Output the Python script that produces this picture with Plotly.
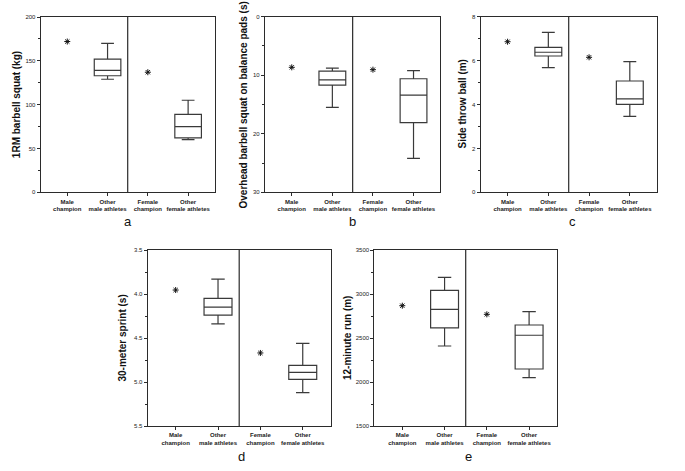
import plotly.graph_objects as go

# ---------------- data ----------------
categories = ["Male<br>champion", "Other<br>male athletes", "Female<br>champion", "Other<br>female athletes"]
cat_pos = [0, 1, 2, 3]

# box stats order: lower whisker, q1, median, q3, upper whisker
squat_champions = [172, 137]
squat_male_box = [129, 133, 139, 152, 170]
squat_female_box = [60, 62, 75, 89, 105]

ohs_champions = [8.65, 9.05]
ohs_male_box = [8.8, 9.3, 10.8, 11.7, 15.5]
ohs_female_box = [9.2, 10.6, 13.4, 18.1, 24.2]

stb_champions = [6.86, 6.15]
stb_male_box = [5.68, 6.21, 6.38, 6.6, 7.29]
stb_female_box = [3.46, 4.01, 4.26, 5.07, 5.95]

sprint_champions = [3.955, 4.67]
sprint_male_box = [3.83, 4.05, 4.15, 4.24, 4.34]
sprint_female_box = [4.56, 4.81, 4.89, 4.97, 5.12]

run_champions = [2867, 2769]
run_male_box = [2409, 2614, 2826, 3042, 3190]
run_female_box = [2049, 2148, 2531, 2648, 2799]

panels = [
    dict(letter="a", title="1RM barbell squat (kg)", champs=squat_champions,
         male=squat_male_box, female=squat_female_box,
         yrange=[0, 200], dtick=50, minor=25, tick0=0, fmt=None),
    dict(letter="b", title="Overhead barbell squat on balance pads (s)", champs=ohs_champions,
         male=ohs_male_box, female=ohs_female_box,
         yrange=[30, 0], dtick=10, minor=5, tick0=0, fmt=None),
    dict(letter="c", title="Side throw ball (m)", champs=stb_champions,
         male=stb_male_box, female=stb_female_box,
         yrange=[0, 8], dtick=2, minor=1, tick0=0, fmt=None),
    dict(letter="d", title="30-meter sprint (s)", champs=sprint_champions,
         male=sprint_male_box, female=sprint_female_box,
         yrange=[5.5, 3.5], dtick=0.5, minor=0.25, tick0=3.5, fmt=".1f"),
    dict(letter="e", title="12-minute run (m)", champs=run_champions,
         male=run_male_box, female=run_female_box,
         yrange=[1500, 3500], dtick=500, minor=250, tick0=1500, fmt=None),
]

# ---------------- layout geometry (pixels) ----------------
W, H = 685, 471
# (left, right, top, bottom), axis-title x, letter (x, y)
geom = [
    ((40.7, 214.7, 17, 192.3), 16.5, (128, 221)),
    ((265, 440.3, 16.7, 192.3), 243, (353, 221)),
    ((480.7, 656.7, 16.7, 192.3), 462, (572, 221)),
    ((147.7, 330.7, 250, 426), 121.5, (241, 456)),
    ((374.4, 557, 250, 426), 347, (468, 456)),
]

FONT = "Arial, Liberation Sans, sans-serif"
LINE = "#2b2b2b"
BOXLINE = "#3a3a3a"

fig = go.Figure()
annotations = []
shapes = []

for i, (p, (box, tx, (lx, ly))) in enumerate(zip(panels, geom)):
    n = i + 1
    xa = "x" if n == 1 else f"x{n}"
    ya = "y" if n == 1 else f"y{n}"
    left, right, top, bottom = box

    # champions
    fig.add_trace(go.Scatter(
        x=[cat_pos[0], cat_pos[2]], y=p["champs"], mode="markers",
        marker=dict(symbol="asterisk-open", size=5, color="#111", line=dict(color="#111", width=1)),
        xaxis=xa, yaxis=ya, showlegend=False, hoverinfo="skip"))

    for pos, stats in ((cat_pos[1], p["male"]), (cat_pos[3], p["female"])):
        lo, q1, med, q3, hi = stats
        fig.add_trace(go.Box(
            x=[pos], lowerfence=[lo], q1=[q1], median=[med], q3=[q3], upperfence=[hi],
            width=0.66, whiskerwidth=0.48, boxpoints=False,
            fillcolor="rgba(255,255,255,0)", line=dict(color=BOXLINE, width=1.2),
            xaxis=xa, yaxis=ya, showlegend=False, hoverinfo="skip"))

    xkey = "xaxis" if n == 1 else f"xaxis{n}"
    ykey = "yaxis" if n == 1 else f"yaxis{n}"
    fig.layout[xkey] = dict(
        domain=[left / W, right / W], anchor=ya, range=[-0.66, 3.66],
        tickvals=cat_pos, ticktext=[f"<b>{c}</b>" for c in categories],
        tickangle=0, automargin=False,
        ticks="outside", ticklen=3, tickwidth=1, tickcolor=LINE,
        showline=True, linecolor=LINE, linewidth=1.2, mirror=True,
        showgrid=False, zeroline=False, fixedrange=True,
        tickfont=dict(family=FONT, size=6, color="#222"))
    ydict = dict(
        domain=[1 - bottom / H, 1 - top / H], anchor=xa, range=p["yrange"],
        dtick=p["dtick"], tick0=p["tick0"], automargin=False,
        ticks="outside", ticklen=3, tickwidth=1, tickcolor=LINE,
        minor=dict(dtick=p["minor"], ticks="outside", ticklen=2, tickcolor=LINE, showgrid=False),
        showline=True, linecolor=LINE, linewidth=1.2, mirror=True,
        showgrid=False, zeroline=False, fixedrange=True,
        tickfont=dict(family=FONT, size=6, color="#222"))
    if p["fmt"]:
        ydict["tickformat"] = p["fmt"]
    fig.layout[ykey] = ydict

    # divider
    shapes.append(dict(type="line", xref=xa, yref=f"{ya} domain", x0=1.5, x1=1.5, y0=0, y1=1,
                       line=dict(color=LINE, width=1.2)))

    # axis title
    annotations.append(dict(
        text=f"<b>{p['title']}</b>", textangle=-90, xref="paper", yref="paper",
        x=tx / W, y=1 - ((top + bottom) / 2) / H, xanchor="center", yanchor="middle",
        showarrow=False, font=dict(family=FONT, size=10, color="#111")))
    # panel letter
    annotations.append(dict(
        text=p["letter"], xref="paper", yref="paper", x=lx / W, y=1 - ly / H,
        xanchor="center", yanchor="middle", showarrow=False,
        font=dict(family=FONT, size=13, color="#111")))

fig.update_layout(
    width=W, height=H, margin=dict(l=0, r=0, t=0, b=0),
    paper_bgcolor="white", plot_bgcolor="white",
    annotations=annotations, shapes=shapes, showlegend=False)

fig.write_html("out.html", config={"displayModeBar": False},
               post_script="document.body.style.margin='0';document.body.style.overflow='hidden';")
